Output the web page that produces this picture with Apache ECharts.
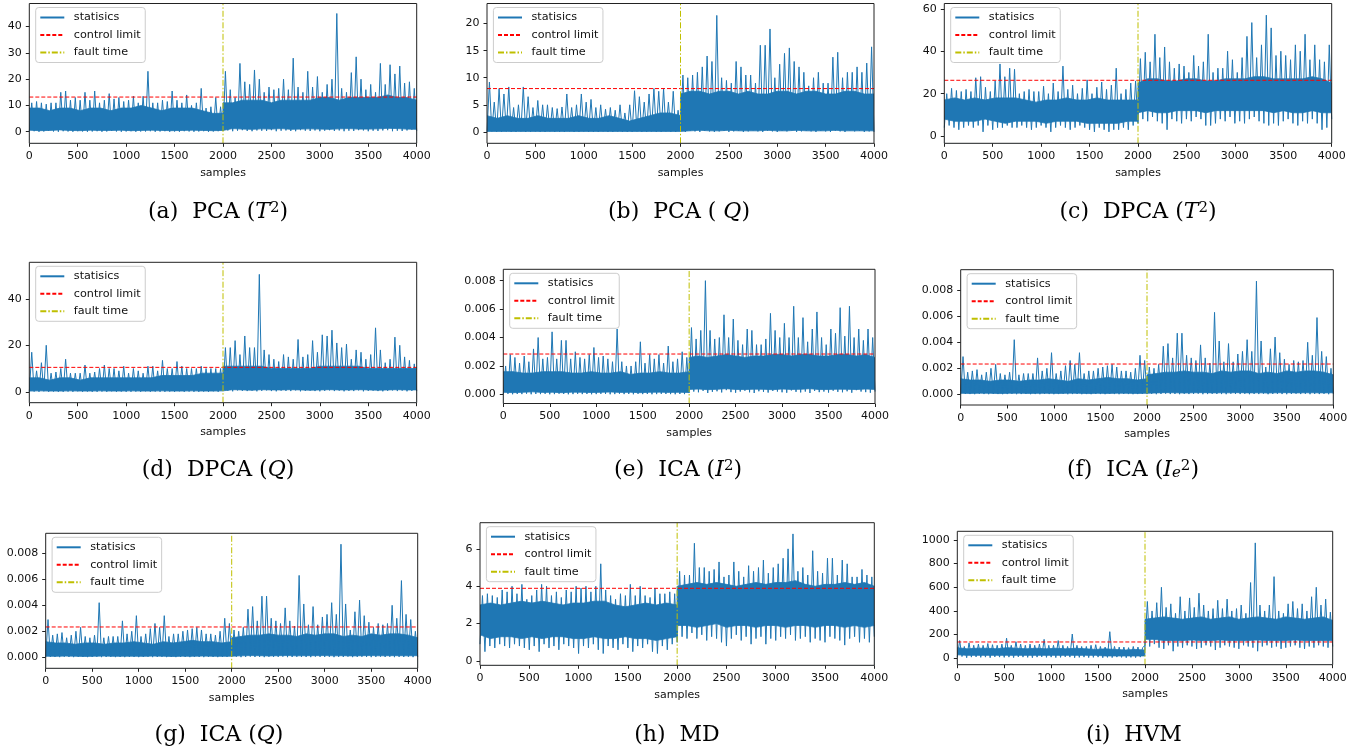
<!DOCTYPE html>
<html><head><meta charset="utf-8">
<script src="https://cdn.jsdelivr.net/npm/echarts/dist/echarts.min.js"></script>
<style>html,body{margin:0;padding:0;background:#fff}#c{width:1363px;height:754px}</style>
</head><body><div id="c"></div><script>
// ---- data (per 50-sample bin peaks, per 50-sample dips, body edges: 20 readings before and 21 after the fault) ----
// (a) PCA T2
const aPk=[11,11.5,11,10.5,11,11,15,15.5,12,13,12,15,12,15.5,11,12,14.5,12.5,13,11.5,12,13.5,11,13.5,23,11,11,12,11.5,15.5,12,11,14,10,11,16.5,9,9.5,13,9.5,
23,16,13,26,19,18,23.5,20,15,17,16,16.5,20,16,28,17,15,23,17,21,15,18,20,45,16.5,15,22.5,28.5,20,16,18,15,26,18,25.5,22,25,18.5,19,16.5];
const aHi=[9,9,8,9,9,8,9,9,8,9,9,10,9,8,9,9,9,8,7,7,11,11,12,12,12,11,12,12,12,12,13,13,12,13,13,13,13,14,13,13,12];
const aLo=[0.6,0.4,0.5,0.7,0.5,0.4,0.6,0.5,0.5,0.6,0.4,0.5,0.6,0.5,0.4,0.5,0.6,0.5,0.4,0.5,1.0,1.2,1.0,0.9,1.1,1.0,1.2,0.9,1.0,1.1,1.0,0.9,1.1,1.2,1.0,1.0,1.1,1.3,1.2,1.0,0.9];
const aDn=[0.1,0.2,0,0.1,0.3,0.1,0,0.2,0.1,0,0.2,0.1,0,0.1,0.2,0,0.1,0.3,0.1,0,0.1,0.2,0,0.1,0.1,0.2,0,0.1,0.2,0,0.1,0,0.2,0.1,0,0.1,0.2,0,0.1,0.2,
0.3,0.5,0.2,0.4,0.6,0.3,0.2,0.5,0.4,0.3,0.6,0.2,0.4,0.5,0.3,0.2,0.6,0.4,0.3,0.5,0.2,0.4,0.6,0.3,0.5,0.2,0.4,0.3,0.6,0.5,0.2,0.4,0.3,0.5,0.6,0.2,0.4,0.3,0.5,0.8,0.4];
// (b) PCA Q
const bPk=[9.2,5.5,8,7,8.3,4.5,5,8.3,6.5,4.5,5.8,5,5,4.5,4.3,4.6,7,4.5,5,7,5.5,6,4.5,5,4.2,4.5,4,5,3.5,5,7.6,6.5,5.5,7,8,7.5,8,5.5,7.5,4,
10.5,10,10.5,11,12,14,13,21.5,10,9.5,9,13,12,10.5,10.5,9,16,16,19,10,12.5,14.5,15.5,13,12,11,8.5,10,11,9,9,13.8,14.7,10,11,11,12,11,12.7,15.7];
const bHi=[3,2.5,3,2.5,2.5,3,2.5,2.5,2.5,3,2.5,2.5,3,2.5,2,2.5,3,3.5,3.5,3,7,7.5,7.5,7,7.5,7.5,7,7.5,7,7,7.5,7.5,7,7.5,7.5,7,7,7.5,7.5,7,7];
const bLo=[0.1,0.1,0.1,0.1,0.1,0.1,0.1,0.1,0.1,0.1,0.1,0.1,0.1,0.1,0.1,0.1,0.1,0.1,0.1,0.1,0.2,0.2,0.3,0.2,0.2,0.3,0.2,0.2,0.2,0.3,0.2,0.2,0.3,0.2,0.2,0.2,0.3,0.2,0.2,0.2,0.2];
const bDn=[0,0.1,0,0,0.1,0,0,0.1,0,0,0.1,0,0,0.1,0,0,0,0.1,0,0,0.1,0,0,0,0.1,0,0,0.1,0,0,0,0.1,0,0,0.1,0,0,0.1,0,0,
0.1,0,0.2,0.1,0,0.2,0.1,0,0.1,0.2,0,0.1,0.2,0,0.1,0.3,0.1,0,0.2,0.1,0,0.2,0.1,0.3,0,0.1,0.2,0.1,0,0.2,0.1,0,0.2,0.1,0,0.3,0.1,0.2,0,0.1,0];
// (c) DPCA T2
const cPk=[20,22.5,21.5,21,22,21,27.5,28,23,21,26,34,28,32,31.5,20,21,22,21,21,23.5,20,25,21,33,22,24,20,22.5,26.5,20,23,25.5,22,24,32,20,22,25,26,
36.5,39.5,35,48,37,42,35,32,34,33,30,38,33,35,48,30,32,32,40,36,30,37,47,53.5,37,43,57,51,38,40,38,36,43,40,48,36,43,36,35,43];
const cHi=[17,18,17,18,17,18,18,18,17,16,17,17,18,17,17,18,17,17,17,17,25,27,27,26,26,27,27,26,26,27,27,27,28,28,27,27,27,27,28,27,25];
const cLo=[8,7,7,7,8,7,6,7,7,7,6,7,7,7,6,6,6,6,7,7,11,12,11,11,12,12,12,11,12,12,12,12,12,12,11,12,11,11,12,11,11];
const cDn=[4,5,4,3,4,5,4,5,2,5,3,4,4,5,4,4,5,4,3,4,5,4,2,4,5,4,3,4,5,4,3,2,4,3,2,3,3,4,3,5,
6,8,7,9,7,6,3,8,7,6,8,7,9,8,5,5,6,8,7,9,6,7,6,8,9,7,6,5,6,5,7,8,6,5,7,6,8,6,3,4,8];
// (d) DPCA Q
const dPk=[17,9,12.5,20,8,8.5,10,14,8,8,8,11.5,8,8.5,10,11.5,10,10,9,11,8,10,9,8,11,11,9,13.5,10,10,13,11,10,10,10,11,10,10,10,10,
19,19,22,16,24,19,19,50.5,18,16,14,13,16,15,14,22.5,15,16,22,17,24.5,24,26.5,21,19,20.5,14,18,17,14,16,27.5,18,12.5,14,23.5,20,15,13.5,12];
const dHi=[6,6,5,6,6,5,6,6,6,6,6,6,6,7,7,7,7,8,8,8,11,11,11,11,11,10,10,10,10,10,11,11,11,11,11,10,10,10,10,10,10];
const dLo=[0.3,0.4,0.3,0.3,0.4,0.3,0.3,0.4,0.3,0.3,0.4,0.3,0.3,0.4,0.3,0.3,0.4,0.3,0.3,0.4,0.8,0.9,0.8,0.7,0.9,0.8,0.8,0.9,0.8,0.7,0.8,0.9,0.8,0.8,0.9,0.8,0.7,0.8,0.9,0.8,0.8];
const dDn=[0,0.1,0,0.2,0,0.1,0,0,0.1,0,0.2,0,0.1,0,0,0.1,0,0.2,0,0.1,0,0,0.1,0,0.2,0,0.1,0,0,0.1,0,0.2,0,0.1,0,0,0.1,0,0.2,0,
0.3,0.5,0.2,0.6,0.4,0.3,0.5,0.2,0.4,0.6,0.3,0.2,0.5,0.4,0.3,0.6,0.2,0.4,0.5,0.3,0.2,0.4,0.6,0.3,0.5,0.2,0.4,0.3,0.6,0.2,0.4,0.5,0.3,0.2,0.4,0.6,0.3,0.5,0.2,0.4,0.3];
// (e) ICA I2  (values in 1e-3)
const ePk=[2.0,2.8,2.6,2.2,2.7,2.3,3.2,4.0,2.5,2.6,4.4,2.5,3.8,3.8,2.5,3.0,2.6,2.5,2.8,3.3,2.6,2.7,2.5,2.3,4.6,2.3,2.0,2.0,2.3,3.7,2.2,2.8,2.5,2.8,2.2,3.4,2.3,2.5,3.0,2.6,
4.7,3.9,4.5,8.0,4.5,3.9,4.0,5.6,4.0,5.3,3.8,3.5,4.6,4.5,3.5,3.5,3.9,5.7,4.5,4.0,5.0,4.0,6.2,4.0,5.4,3.7,4.6,5.8,4.0,3.5,4.6,4.3,6.1,4.1,6.2,4.0,4.6,3.8,4.6,4.0];
const eHi=[1.6,1.6,1.5,1.5,1.6,1.6,1.6,1.5,1.5,1.6,1.5,1.5,1.6,1.4,1.5,1.5,1.6,1.5,1.5,1.6,2.6,2.7,2.6,2.7,2.8,2.7,2.6,2.7,2.7,2.8,2.8,2.7,2.8,2.8,2.7,2.7,2.8,2.8,2.7,2.8,2.6];
const eLo=[0.15,0.12,0.15,0.18,0.14,0.15,0.12,0.16,0.15,0.13,0.15,0.17,0.14,0.15,0.12,0.15,0.16,0.14,0.15,0.13,0.35,0.38,0.33,0.36,0.4,0.35,0.34,0.37,0.36,0.33,0.38,0.35,0.36,0.4,0.34,0.35,0.37,0.36,0.34,0.38,0.35];
const eDn=[0.02,0.04,0.01,0.03,0.02,0.05,0.01,0.03,0.02,0.04,0.01,0.02,0.05,0.03,0.01,0.02,0.04,0.02,0.03,0.01,0.02,0.04,0.03,0.01,0.02,0.05,0.02,0.03,0.01,0.04,0.02,0.03,0.01,0.02,0.04,0.03,0.02,0.01,0.03,0.02,
0.12,0.2,0.15,0.25,0.1,0.18,0.22,0.14,0.3,0.16,0.12,0.2,0.26,0.15,0.1,0.22,0.18,0.13,0.25,0.2,0.15,0.12,0.28,0.18,0.14,0.2,0.1,0.24,0.16,0.2,0.13,0.26,0.18,0.15,0.22,0.12,0.3,0.2,0.16,0.12,0.2];
// (f) ICA Ie2 and (g) ICA Q : the two pictures show the same trace (values in 1e-3)
const fPk=[2.9,1.7,1.8,1.9,1.5,1.7,2.0,2.3,1.6,1.5,1.7,4.2,1.5,1.6,1.6,1.6,2.8,1.8,2.0,3.2,1.6,1.8,2.2,2.6,2.3,3.2,1.6,1.8,1.8,2.0,2.1,2.2,2.3,2.1,1.8,1.8,1.7,2.0,3.0,2.6,
2.1,2.0,2.3,3.7,3.9,2.8,4.7,4.7,3.0,2.8,2.6,3.8,2.8,2.4,6.3,4.1,2.5,3.9,2.5,3.1,3.3,4.2,3.3,8.7,4.1,2.1,3.5,4.4,3.2,2.7,2.3,2.6,2.5,2.6,4.0,3.0,5.9,3.3,2.9,2.0];
const fHi=[1.2,1.1,1.1,1.0,1.1,1.1,1.0,1.1,1.1,1.2,1.1,1.0,1.2,1.1,1.2,1.3,1.2,1.2,1.1,1.2,1.5,1.6,1.7,1.7,1.8,1.7,1.7,1.6,1.8,1.7,1.8,1.8,1.6,1.7,1.6,1.8,1.7,1.8,1.8,1.7,1.5];
const fLo=[0.08,0.07,0.09,0.08,0.06,0.08,0.09,0.07,0.08,0.08,0.07,0.09,0.08,0.06,0.08,0.07,0.09,0.08,0.07,0.08,0.12,0.11,0.13,0.12,0.1,0.12,0.13,0.11,0.12,0.12,0.13,0.11,0.12,0.1,0.12,0.13,0.11,0.12,0.12,0.11,0.12];
const fDn=[0.01,0.03,0.02,0.01,0.04,0.02,0.01,0.03,0.02,0.01,0.02,0.04,0.01,0.02,0.03,0.01,0.02,0.01,0.03,0.02,0.01,0.02,0.04,0.01,0.02,0.03,0.01,0.02,0.01,0.03,0.02,0.01,0.04,0.02,0.01,0.03,0.02,0.01,0.02,0.03,
0.02,0.04,0.01,0.03,0.05,0.02,0.03,0.01,0.04,0.02,0.03,0.05,0.01,0.02,0.04,0.03,0.02,0.01,0.05,0.03,0.02,0.04,0.01,0.03,0.02,0.05,0.01,0.03,0.04,0.02,0.01,0.03,0.05,0.02,0.04,0.01,0.03,0.02,0.04,0.01,0.03];
// (h) MD
const hPk=[3.5,3.6,3.5,3.4,3.8,3.7,4.0,3.6,4.1,3.3,3.5,3.8,4.1,4.0,3.5,3.7,3.4,3.8,3.7,4.0,3.9,4.0,3.7,4.0,5.2,3.8,3.5,3.3,3.6,3.5,4.1,3.5,4.0,3.5,3.4,3.9,3.6,3.6,3.7,3.6,
4.8,4.6,4.6,6.3,5.0,5.0,4.8,4.9,5.3,4.5,4.6,5.3,4.8,4.5,5.1,4.8,5.0,5.4,4.7,5.0,5.2,5.5,6.0,6.8,4.8,5.0,4.6,5.9,4.8,4.7,5.5,5.5,4.6,5.4,5.2,4.5,4.5,4.9,4.6,4.5];
const hHi=[3.0,3.1,3.0,3.1,3.2,3.1,3.2,3.1,3.0,3.1,3.1,3.2,3.2,3.0,2.9,3.0,3.1,3.0,3.1,3.0,4.0,4.1,4.2,4.1,4.2,4.1,4.0,4.1,4.2,4.1,4.2,4.2,4.3,4.1,4.0,4.1,4.1,4.2,4.1,4.2,4.0];
const hLo=[1.4,1.2,1.3,1.3,1.2,1.3,1.2,1.3,1.3,1.2,1.2,1.3,1.2,1.2,1.3,1.2,1.2,1.1,1.2,1.3,1.9,1.9,1.8,1.9,2.0,1.8,1.9,1.9,1.8,1.9,1.9,1.8,1.9,1.9,1.8,1.9,1.9,1.8,1.9,1.8,1.9];
const hDn=[0.9,0.5,0.8,0.7,0.9,0.8,0.7,0.9,0.8,0.7,0.6,0.8,0.5,0.9,0.7,0.8,0.6,0.9,0.8,0.7,0.4,0.8,0.7,0.9,0.6,0.4,0.8,0.7,0.6,0.9,0.7,0.5,0.8,0.7,0.9,0.5,0.4,0.8,0.6,0.9,
1.0,1.3,1.2,1.5,1.2,1.4,1.1,1.3,1.2,1.0,0.8,1.2,1.4,1.1,1.3,0.9,1.2,1.3,0.9,1.2,1.1,1.3,1.2,1.4,1.1,1.2,1.3,1.0,1.2,1.1,1.0,1.3,1.2,1.1,0.85,1.2,1.3,1.0,1.2,1.0,1.3];
// (i) HVM
const iPk=[150,100,130,110,120,110,125,115,110,120,170,110,140,120,110,120,110,120,160,110,110,150,110,100,205,110,100,100,110,115,100,95,225,100,95,95,90,100,95,90,
480,400,470,600,430,460,380,520,400,510,430,550,450,400,420,490,420,500,400,420,450,380,640,975,450,400,450,690,400,380,460,480,420,460,400,520,600,450,500,390];
const iHi=[90,80,85,85,80,90,85,80,85,80,85,80,85,80,75,80,75,70,75,70,330,340,350,340,330,340,350,330,340,350,330,340,350,340,330,350,340,330,340,350,320];
const iLo=[30,25,25,25,25,25,25,25,25,25,25,25,25,25,25,20,20,20,20,20,160,160,150,150,150,155,150,150,155,150,150,150,155,150,150,150,155,150,150,150,150];
const iDn=[10,15,5,10,12,8,10,5,12,10,8,10,6,12,10,8,5,10,12,8,10,6,8,12,10,5,8,10,6,8,10,5,8,6,10,8,5,8,6,10,
110,100,120,90,80,110,60,100,90,110,100,80,90,110,100,70,90,110,100,90,80,110,100,90,60,100,110,90,100,80,90,100,110,90,80,100,90,110,100,90,100];

const CTRL_LIMITS=[13.2,8.0,26.3,10.5,2.84,2.33,2.33,3.89,138];
const Y_RANGES=[[-4.4,48.8],[-2.1,23.7],[-3.4,62.5],[-4.7,55.7],[-0.64,8.8],[-0.82,9.58],[-0.85,9.54],[-0.23,7.4],[-54,1073]];
const Y_SPLITS=[5,5,3,3,5,5,5,4,6];
const MILLI=[false,false,false,false,true,true,true,false,false];
const FAULT_AT=2000, N_SAMPLES=4000;
const CAPTIONS=['(a)  PCA ({i|T}{s|2})','(b)  PCA ( {i|Q})','(c)  DPCA ({i|T}{s|2})','(d)  DPCA ({i|Q})','(e)  ICA ({i|I}{s|2})','(f)  ICA ({i|I}{u|e}{s|2})','(g)  ICA ({i|Q})','(h)  MD','(i)  HVM'];
const SERIES_DATA=[[aPk,aHi,aLo,aDn],[bPk,bHi,bLo,bDn],[cPk,cHi,cLo,cDn],[dPk,dHi,dLo,dDn],[ePk,eHi,eLo,eDn],[fPk,fHi,fLo,fDn],[fPk,fHi,fLo,fDn],[hPk,hHi,hLo,hDn],[iPk,iHi,iLo,iDn]];
// sample positions of the body-edge readings: 20 spread over 0..1999, 21 over 2000..4000
const BAND_X=Array.from({length:41},(_,j)=>j<20?Math.round(j*(FAULT_AT-1)/19):FAULT_AT+100*(j-20));

// ---- layout (pixels) ----
const LAYOUT=[
 {l:29.3,t:3.5,r:416.7,b:143.3,cx:218,cy:212},
 {l:487,t:3.5,r:874,b:143.3,cx:679,cy:212},
 {l:944.3,t:3.5,r:1331.7,b:143.3,cx:1138,cy:212},
 {l:29.3,t:262.3,r:416.7,b:402.7,cx:218,cy:470},
 {l:503.3,t:269.3,r:875,b:403.5,cx:678,cy:470},
 {l:960.7,t:269.7,r:1333.3,b:405,cx:1133,cy:470},
 {l:45.7,t:533.3,r:417.7,b:668.3,cx:219,cy:735},
 {l:480,t:522.7,r:874.3,b:665.3,cx:677,cy:735},
 {l:957.3,t:531.3,r:1332.7,b:664.7,cx:1134,cy:735}
];
const FF="'DejaVu Sans', sans-serif", FS=11, LFS=11.2, SERIF="'DejaVu Serif', serif", CFS=22;
const BLUE='#1f77b4', RED='#ff0000', YEL='#bfbf00', INK='#111';
const STAT='statisics', CTRL='control limit', FAULT='fault time';

const grids=[],xAxes=[],yAxes=[],series=[],legends=[],graphics=[];
LAYOUT.forEach((L,k)=>{
  const [pk,hi,lo,dn]=SERIES_DATA[k];
  const yr=Y_RANGES[k];
  grids.push({left:L.l,top:L.t,width:L.r-L.l,height:L.b-L.t,show:true,borderColor:'#222',borderWidth:1,backgroundColor:'transparent',z:6});
  const tick={show:true,length:3.5,lineStyle:{color:'#222',width:1}};
  xAxes.push({type:'value',gridIndex:k,min:0,max:N_SAMPLES,interval:500,axisLine:{show:false,onZero:false},axisTick:tick,
    axisLabel:{fontSize:FS,color:INK,margin:7.5,fontFamily:FF,formatter:v=>String(v)},splitLine:{show:false},
    name:'samples',nameLocation:'middle',nameGap:24,nameTextStyle:{fontSize:FS,color:INK,fontFamily:FF}});
  yAxes.push({type:'value',gridIndex:k,min:yr[0],max:yr[1],splitNumber:Y_SPLITS[k],axisLine:{show:false,onZero:false},axisTick:tick,
    axisLabel:{fontSize:FS,color:INK,margin:7.5,fontFamily:FF,showMinLabel:false,showMaxLabel:false,
      formatter:MILLI[k]?(v=>(v/1000).toFixed(3)):(v=>String(Math.round(v*1000)/1000))},splitLine:{show:false}});
  // dense body: blue area below the upper edge, white area below the lower edge
  series.push({type:'line',xAxisIndex:k,yAxisIndex:k,data:hi.map((v,j)=>[BAND_X[j],v]),symbol:'none',
    lineStyle:{width:0.8,color:BLUE},areaStyle:{color:BLUE,opacity:1,origin:'start'},silent:true,animation:false,z:1});
  series.push({type:'line',xAxisIndex:k,yAxisIndex:k,data:lo.map((v,j)=>[BAND_X[j],v]),symbol:'none',
    lineStyle:{width:0.8,color:BLUE},areaStyle:{color:'#fff',opacity:1,origin:'start'},silent:true,animation:false,z:1});
  // spikes and dips
  const zz=[];
  pk.forEach((v,i)=>{zz.push([50*i,dn[i]]);zz.push([50*i+25,v]);});
  zz.push([N_SAMPLES,dn[80]]);
  series.push({name:STAT,type:'line',xAxisIndex:k,yAxisIndex:k,data:zz,symbol:'none',lineStyle:{width:1,color:BLUE},itemStyle:{color:BLUE},animation:false,z:2});
  series.push({name:CTRL,type:'line',xAxisIndex:k,yAxisIndex:k,data:[[0,CTRL_LIMITS[k]],[N_SAMPLES,CTRL_LIMITS[k]]],symbol:'none',
    lineStyle:{width:1,color:RED,type:[4,2]},itemStyle:{color:RED},animation:false,z:3});
  series.push({name:FAULT,type:'line',xAxisIndex:k,yAxisIndex:k,data:[[FAULT_AT,yr[0]],[FAULT_AT,yr[1]]],symbol:'none',
    lineStyle:{width:1,color:YEL,type:[6,2,1.5,2]},itemStyle:{color:YEL},animation:false,z:3});
  legends.push({data:[STAT,CTRL,FAULT],orient:'vertical',left:L.l+6.4,top:L.t+4,itemWidth:24,itemHeight:11,itemGap:6.5,
    padding:[4.5,4.5,4.5,3.6],borderColor:'#ccc',borderWidth:1,borderRadius:3,backgroundColor:'rgba(255,255,255,0.85)',
    itemStyle:{opacity:0},
    textStyle:{fontSize:LFS,color:INK,fontFamily:FF,padding:[0,0,0,4.5]},selectedMode:false,z:10});
  graphics.push({type:'text',x:L.cx,y:L.cy,z:10,style:{text:CAPTIONS[k],fontFamily:SERIF,fontSize:CFS,fill:'#000',align:'center',verticalAlign:'middle',
    rich:{i:{fontStyle:'italic',fontFamily:SERIF,fontSize:CFS},s:{fontFamily:SERIF,fontSize:CFS*0.68,verticalAlign:'top'},u:{fontStyle:'italic',fontFamily:SERIF,fontSize:CFS*0.68,verticalAlign:'bottom'}}}});
});

const chart=echarts.init(document.getElementById('c'),null,{renderer:'canvas'});
chart.setOption({animation:false,backgroundColor:'#fff',textStyle:{fontFamily:FF},
  grid:grids,xAxis:xAxes,yAxis:yAxes,series:series,legend:legends,graphic:graphics});
</script></body></html>
